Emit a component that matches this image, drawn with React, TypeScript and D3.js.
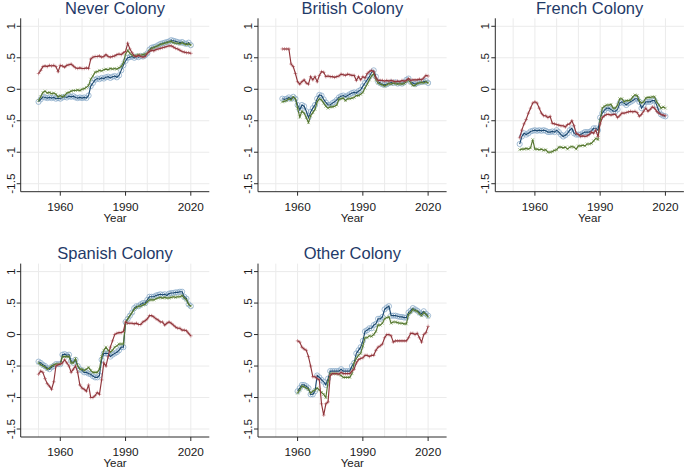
import React from "react";
import * as d3 from "d3";

// ---- Data (annual values) ----
const panelTitles = ["Never Colony", "British Colony", "French Colony", "Spanish Colony", "Other Colony"];
const panelStartYears = [1950, 1953, 1953, 1950, 1960];

const neverBlue = [-0.20, -0.16, -0.12, -0.13, -0.14, -0.13, -0.14, -0.13, -0.15, -0.14,
  -0.15, -0.13, -0.12, -0.13, -0.11, -0.12, -0.11, -0.13, -0.14, -0.13,
  -0.14, -0.13, -0.14, -0.10, 0.05, 0.10, 0.15, 0.17, 0.16, 0.18,
  0.17, 0.19, 0.20, 0.18, 0.20, 0.21, 0.19, 0.22, 0.30, 0.38,
  0.45, 0.50, 0.51, 0.52, 0.50, 0.52, 0.51, 0.53, 0.52, 0.54,
  0.57, 0.63, 0.66, 0.67, 0.68, 0.70, 0.72, 0.73, 0.74, 0.75,
  0.76, 0.78, 0.77, 0.76, 0.75, 0.74, 0.75, 0.73, 0.72, 0.74, 0.70];
const neverGreen = [-0.18, -0.12, -0.05, -0.03, -0.06, -0.05, -0.07, -0.06, -0.08, -0.12,
  -0.10, -0.12, -0.10, -0.06, -0.05, -0.03, -0.02, -0.02, -0.01, -0.02,
  0.00, 0.01, 0.03, 0.06, 0.16, 0.21, 0.27, 0.28, 0.30, 0.29,
  0.31, 0.32, 0.31, 0.33, 0.32, 0.33, 0.32, 0.34, 0.36, 0.42,
  0.56, 0.62, 0.57, 0.54, 0.53, 0.54, 0.55, 0.54, 0.55, 0.56,
  0.57, 0.62, 0.65, 0.66, 0.68, 0.69, 0.71, 0.72, 0.73, 0.74,
  0.75, 0.76, 0.74, 0.73, 0.73, 0.72, 0.74, 0.72, 0.71, 0.72, 0.70];
const neverRed = [0.25, 0.30, 0.36, 0.37, 0.36, 0.38, 0.37, 0.38, 0.36, 0.28,
  0.38, 0.37, 0.35, 0.38, 0.39, 0.40, 0.37, 0.34, 0.33, 0.34,
  0.33, 0.33, 0.34, 0.33, 0.48, 0.51, 0.52, 0.52, 0.53, 0.51,
  0.52, 0.55, 0.52, 0.51, 0.52, 0.53, 0.55, 0.56, 0.55, 0.58,
  0.60, 0.73, 0.64, 0.58, 0.53, 0.52, 0.54, 0.52, 0.51, 0.52,
  0.57, 0.60, 0.62, 0.61, 0.63, 0.64, 0.65, 0.66, 0.67, 0.68,
  0.69, 0.69, 0.67, 0.65, 0.64, 0.62, 0.60, 0.59, 0.58, 0.58, 0.57];

const britishBlue = [-0.15, -0.16, -0.15, -0.13, -0.15, -0.12, -0.15,
  -0.25, -0.33, -0.25, -0.27, -0.35, -0.45, -0.36, -0.30, -0.25, -0.15,
  -0.09, -0.10, -0.16, -0.21, -0.25, -0.25, -0.22, -0.20, -0.17, -0.13,
  -0.11, -0.10, -0.12, -0.10, -0.08, -0.06, -0.05, -0.06, -0.03, -0.01,
  0.05, 0.10, 0.15, 0.20, 0.27, 0.30, 0.20, 0.12, 0.10, 0.08,
  0.07, 0.08, 0.10, 0.11, 0.10, 0.11, 0.09, 0.10, 0.09, 0.11,
  0.15, 0.17, 0.12, 0.10, 0.08, 0.10, 0.11, 0.12, 0.12, 0.13, 0.10];
const britishGreen = [-0.20, -0.19, -0.18, -0.15, -0.17, -0.12, -0.15,
  -0.30, -0.44, -0.35, -0.38, -0.45, -0.53, -0.42, -0.37, -0.32, -0.20,
  -0.15, -0.17, -0.22, -0.27, -0.30, -0.28, -0.28, -0.27, -0.25, -0.16,
  -0.15, -0.14, -0.18, -0.15, -0.15, -0.14, -0.13, -0.10, -0.10, -0.08,
  -0.05, 0.02, 0.08, 0.15, 0.21, 0.25, 0.15, 0.10, 0.08, 0.07,
  0.05, 0.07, 0.09, 0.08, 0.10, 0.09, 0.08, 0.09, 0.08, 0.09,
  0.12, 0.15, 0.10, 0.06, 0.06, 0.09, 0.10, 0.11, 0.10, 0.12, 0.10];
const britishRed = [0.64, 0.64, 0.64, 0.64, 0.40, 0.36, 0.25,
  0.12, 0.08, 0.12, 0.15, 0.10, 0.08, 0.20, 0.15, 0.20, 0.12,
  0.22, 0.28, 0.27, 0.20, 0.21, 0.20, 0.20, 0.19, 0.20, 0.21,
  0.24, 0.23, 0.22, 0.24, 0.23, 0.22, 0.22, 0.14, 0.20, 0.15,
  0.20, 0.18, 0.25, 0.28, 0.30, 0.28, 0.18, 0.14, 0.14, 0.14,
  0.13, 0.14, 0.13, 0.14, 0.13, 0.12, 0.13, 0.12, 0.14, 0.13,
  0.14, 0.17, 0.14, 0.15, 0.15, 0.15, 0.16, 0.15, 0.18, 0.22, 0.21];

const frenchBlue = [-0.87, -0.75, -0.70, -0.72, -0.70, -0.67, -0.66,
  -0.65, -0.66, -0.65, -0.66, -0.65, -0.66, -0.68, -0.68, -0.67, -0.68,
  -0.65, -0.68, -0.72, -0.75, -0.73, -0.70, -0.65, -0.62, -0.70, -0.72,
  -0.72, -0.72, -0.70, -0.68, -0.68, -0.68, -0.66, -0.62, -0.62, -0.65,
  -0.45, -0.38, -0.33, -0.30, -0.30, -0.32, -0.35, -0.35, -0.32, -0.22,
  -0.20, -0.22, -0.25, -0.22, -0.20, -0.18, -0.15, -0.15, -0.20, -0.30,
  -0.25, -0.20, -0.20, -0.20, -0.18, -0.18, -0.25, -0.35, -0.40, -0.42, -0.43];
const frenchGreen = [-0.96, -0.95, -0.95, -0.94, -0.95, -0.93, -0.80,
  -0.95, -0.95, -0.96, -0.95, -0.97, -0.96, -1.00, -1.00, -0.99, -0.97,
  -0.96, -0.92, -0.92, -0.93, -0.92, -0.95, -0.92, -0.91, -0.92, -0.95,
  -0.90, -0.90, -0.89, -0.90, -0.87, -0.87, -0.86, -0.82, -0.78, -0.80,
  -0.50, -0.30, -0.27, -0.25, -0.25, -0.24, -0.30, -0.30, -0.25, -0.15,
  -0.15, -0.20, -0.18, -0.18, -0.17, -0.12, -0.09, -0.10, -0.18, -0.22,
  -0.20, -0.14, -0.13, -0.13, -0.12, -0.12, -0.20, -0.25, -0.30, -0.28, -0.30];
const frenchRed = [-0.77, -0.65, -0.55, -0.48, -0.38, -0.30, -0.22,
  -0.20, -0.22, -0.30, -0.38, -0.42, -0.42, -0.45, -0.43, -0.54, -0.55,
  -0.56, -0.57, -0.58, -0.58, -0.60, -0.56, -0.55, -0.50, -0.58, -0.70,
  -0.72, -0.75, -0.74, -0.75, -0.74, -0.72, -0.68, -0.70, -0.65, -0.75,
  -0.55, -0.45, -0.42, -0.40, -0.40, -0.41, -0.40, -0.40, -0.45, -0.42,
  -0.38, -0.38, -0.37, -0.36, -0.35, -0.36, -0.35, -0.37, -0.43, -0.40,
  -0.35, -0.30, -0.35, -0.32, -0.28, -0.30, -0.35, -0.38, -0.40, -0.41, -0.42];

const spanishBlue = [-0.43, -0.45, -0.48, -0.50, -0.53, -0.55, -0.52, -0.50, -0.47, -0.47,
  -0.47, -0.32, -0.31, -0.33, -0.32, -0.42, -0.45, -0.40, -0.50, -0.55,
  -0.57, -0.60, -0.60, -0.62, -0.63, -0.66, -0.68, -0.68, -0.65, -0.40,
  -0.30, -0.30, -0.30, -0.35, -0.32, -0.30, -0.28, -0.25, -0.20, -0.20,
  0.20, 0.25, 0.30, 0.35, 0.42, 0.45, 0.45, 0.48, 0.50, 0.50,
  0.55, 0.60, 0.60, 0.60, 0.62, 0.63, 0.64, 0.63, 0.64, 0.62,
  0.65, 0.66, 0.66, 0.67, 0.67, 0.68, 0.68, 0.60, 0.57, 0.48, 0.45];
const spanishGreen = [-0.45, -0.48, -0.50, -0.52, -0.55, -0.53, -0.50, -0.48, -0.47, -0.47,
  -0.47, -0.35, -0.35, -0.35, -0.35, -0.45, -0.45, -0.38, -0.50, -0.55,
  -0.55, -0.57, -0.55, -0.52, -0.57, -0.60, -0.60, -0.60, -0.55, -0.35,
  -0.25, -0.20, -0.25, -0.28, -0.25, -0.20, -0.18, -0.15, -0.15, -0.15,
  0.18, 0.25, 0.30, 0.35, 0.40, 0.43, 0.45, 0.45, 0.47, 0.48,
  0.52, 0.55, 0.55, 0.55, 0.57, 0.58, 0.59, 0.58, 0.59, 0.58,
  0.58, 0.59, 0.60, 0.59, 0.60, 0.60, 0.62, 0.58, 0.55, 0.48, 0.45];
const spanishRed = [-0.63, -0.58, -0.60, -0.70, -0.78, -0.82, -0.87, -0.75, -0.50, -0.48,
  -0.47, -0.45, -0.40, -0.45, -0.50, -0.60, -0.55, -0.50, -0.60, -0.80,
  -0.85, -0.87, -0.90, -0.80, -1.00, -1.00, -0.97, -0.92, -0.95, -0.72,
  -0.45, -0.50, -0.35, -0.20, -0.10, 0.00, 0.02, 0.03, 0.03, 0.05,
  0.20, 0.18, 0.18, 0.18, 0.17, 0.18, 0.16, 0.16, 0.20, 0.22,
  0.25, 0.30, 0.30, 0.28, 0.25, 0.23, 0.20, 0.20, 0.15, 0.18,
  0.20, 0.18, 0.15, 0.12, 0.10, 0.10, 0.07, 0.07, 0.06, 0.02, -0.02];

const otherBlue = [-0.90, -0.85, -0.80, -0.80, -0.82, -0.85, -0.95, -0.95, -0.90, -0.65,
  -0.68, -0.72, -0.75, -0.80, -0.70, -0.58, -0.58, -0.58, -0.58, -0.58,
  -0.55, -0.58, -0.58, -0.58, -0.58, -0.50, -0.45, -0.30, -0.25, -0.20,
  -0.10, 0.05, 0.07, 0.10, 0.10, 0.15, 0.17, 0.25, 0.25, 0.28,
  0.40, 0.43, 0.45, 0.30, 0.30, 0.30, 0.29, 0.28, 0.28, 0.27,
  0.27, 0.35, 0.38, 0.42, 0.40, 0.38, 0.35, 0.33, 0.37, 0.33, 0.30];
const otherGreen = [-0.93, -0.88, -0.82, -0.83, -0.85, -0.87, -0.93, -0.90, -0.88, -0.85,
  -0.88, -0.92, -0.95, -1.00, -0.75, -0.62, -0.62, -0.62, -0.62, -0.63,
  -0.65, -0.68, -0.68, -0.68, -0.68, -0.62, -0.45, -0.38, -0.33, -0.30,
  -0.18, -0.05, -0.05, -0.02, -0.03, 0.00, 0.05, 0.15, 0.15, 0.18,
  0.25, 0.27, 0.28, 0.18, 0.20, 0.20, 0.19, 0.18, 0.18, 0.17,
  0.17, 0.32, 0.35, 0.40, 0.38, 0.37, 0.33, 0.30, 0.35, 0.32, 0.28];
const otherRed = [-0.10, -0.12, -0.20, -0.23, -0.25, -0.35, -0.50, -0.67, -0.67, -0.70,
  -0.72, -1.10, -1.28, -1.10, -1.07, -0.65, -0.62, -0.62, -0.62, -0.63,
  -0.60, -0.62, -0.62, -0.62, -0.62, -0.58, -0.55, -0.45, -0.40, -0.38,
  -0.37, -0.33, -0.33, -0.35, -0.33, -0.33, -0.25, -0.20, -0.18, -0.15,
  -0.05, 0.00, 0.00, -0.02, -0.12, -0.10, -0.10, -0.10, -0.10, -0.10,
  -0.10, -0.05, 0.02, 0.02, 0.00, 0.02, -0.05, -0.12, 0.00, 0.03, 0.13];

const blueSeries = [neverBlue, britishBlue, frenchBlue, spanishBlue, otherBlue];
const greenSeries = [neverGreen, britishGreen, frenchGreen, spanishGreen, otherGreen];
const redSeries = [neverRed, britishRed, frenchRed, spanishRed, otherRed];

const yTickValues = [-1.5, -1, -0.5, 0, 0.5, 1];
const yTickLabels = ["-1.5", "-1", "-.5", "0", ".5", "1"];
const xGridYears = [1950, 1960, 1970, 1980, 1990, 2000, 2010, 2020];
const xTickYears = [1960, 1990, 2020];

// ---- Layout ----
const W = 685;
const H = 470;
const colLeft = [20.7, 258, 495.3];
const rowTop = [0, 245.3];
const plotW = 188.6;
const plotTop = 18.3;
const plotBottom = 191.7;

const FONT = "'Liberation Sans', Arial, Helvetica, sans-serif";
const AXIS = "#2b2b2b";
const GRID = "#ebebeb";
const TITLE = "#1f3a68";
const C_BLUE = "#1a476f";
const C_GREEN = "#55752f";
const C_RED = "#90353b";

type Pt = { year: number; v: number };

function Panel({ idx }: { idx: number }) {
  const col = idx % 3;
  const row = Math.floor(idx / 3);
  const left = colLeft[col];
  const dy = rowTop[row];
  const x = d3.scaleLinear().domain([1941.8, 2028.5]).range([left, left + plotW]);
  const y = d3.scaleLinear().domain([-1.627, 1.127]).range([plotBottom + dy, plotTop + dy]);
  const start = panelStartYears[idx];
  const toPts = (arr: number[]): Pt[] => arr.map((v, i) => ({ year: start + i, v }));
  const line = d3.line<Pt>().x((d) => x(d.year)).y((d) => y(d.v));
  const blue = toPts(blueSeries[idx]);
  const green = toPts(greenSeries[idx]);
  const red = toPts(redSeries[idx]);
  const top = y.range()[1];
  const bottom = y.range()[0];
  const right = x.range()[1];

  return (
    <g>
      {yTickValues.map((t) => (
        <line key={"gy" + t} x1={left} x2={right} y1={y(t)} y2={y(t)} stroke={GRID} strokeWidth={1} />
      ))}
      {xGridYears.map((t) => (
        <line key={"gx" + t} x1={x(t)} x2={x(t)} y1={top} y2={bottom} stroke={GRID} strokeWidth={1} />
      ))}
      <g>
        {blue.map((d, i) => (
          <circle key={"bc" + i} cx={x(d.year)} cy={y(d.v)} r={2.6} fill="none" stroke="#86a8c8" strokeWidth={0.9} opacity={0.85} />
        ))}
        <path d={line(blue) || ""} fill="none" stroke={C_BLUE} strokeWidth={1.15} />
      </g>
      <g>
        {green.map((d, i) => {
          const cx = x(d.year);
          const cy = y(d.v);
          const s = 1.5;
          return (
            <path key={"gm" + i} d={`M${cx - s},${cy - s}L${cx + s},${cy + s}M${cx - s},${cy + s}L${cx + s},${cy - s}`} stroke="#8fb070" strokeWidth={0.8} opacity={0.9} />
          );
        })}
        <path d={line(green) || ""} fill="none" stroke={C_GREEN} strokeWidth={1.15} />
      </g>
      <g>
        {red.map((d, i) => {
          const cx = x(d.year);
          const cy = y(d.v);
          const s = 1.8;
          return (
            <path key={"rm" + i} d={`M${cx - s},${cy}L${cx + s},${cy}M${cx},${cy - s}L${cx},${cy + s}`} stroke="#c0787e" strokeWidth={0.8} opacity={0.9} />
          );
        })}
        <path d={line(red) || ""} fill="none" stroke={C_RED} strokeWidth={1.15} />
      </g>
      <line x1={left} x2={left} y1={top} y2={bottom} stroke={AXIS} strokeWidth={1} />
      <line x1={left} x2={right} y1={bottom} y2={bottom} stroke={AXIS} strokeWidth={1} />
      {yTickValues.map((t, i) => (
        <g key={"yt" + t}>
          <line x1={left - 4} x2={left} y1={y(t)} y2={y(t)} stroke={AXIS} strokeWidth={1} />
          <text
            transform={`translate(${left - 6},${y(t)}) rotate(-90)`}
            textAnchor="middle"
            fontFamily={FONT}
            fontSize={11.8}
            fill="#1a1a1a"
          >
            {yTickLabels[i]}
          </text>
        </g>
      ))}
      {xTickYears.map((t) => (
        <g key={"xt" + t}>
          <line x1={x(t)} x2={x(t)} y1={bottom} y2={bottom + 4} stroke={AXIS} strokeWidth={1} />
          <text x={x(t)} y={bottom + 18.8} textAnchor="middle" fontFamily={FONT} fontSize={11.8} fill="#1a1a1a">
            {t}
          </text>
        </g>
      ))}
      <text x={(left + right) / 2} y={bottom + 30} textAnchor="middle" fontFamily={FONT} fontSize={11.5} fill="#1a1a1a">
        Year
      </text>
      <text x={(left + right) / 2} y={14 + dy} textAnchor="middle" fontFamily={FONT} fontSize={16.5} fill={TITLE}>
        {panelTitles[idx]}
      </text>
    </g>
  );
}

export default function App() {
  return (
    <svg
      width={W}
      height={H}
      viewBox={`0 0 ${W} ${H}`}
      style={{ position: "absolute", left: 0, top: 0, background: "#fff", display: "block" }}
    >
      <rect x={0} y={0} width={W} height={H} fill="#fff" />
      {panelTitles.map((_, i) => (
        <Panel key={i} idx={i} />
      ))}
    </svg>
  );
}
